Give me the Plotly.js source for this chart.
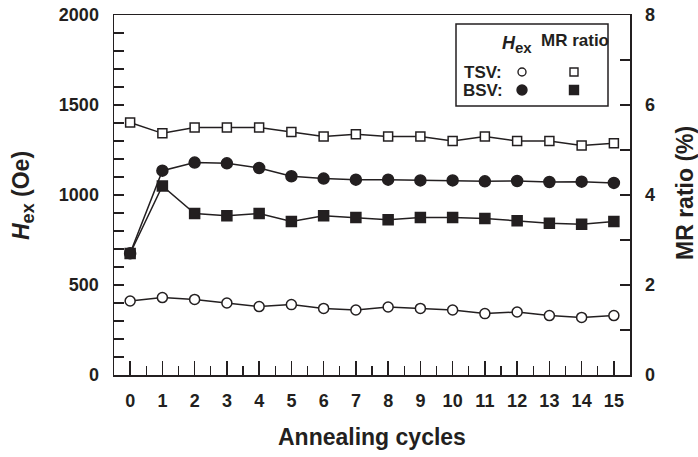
<!DOCTYPE html>
<html>
<head>
<meta charset="utf-8">
<script src="https://cdn.plot.ly/plotly-3.0.1.min.js"></script>
<style>html,body{margin:0;padding:0;background:#fff;}#chart{width:698px;height:457px;}</style>
</head>
<body>
<div id="chart"></div>
<script>
// Data
var cycles = [0,1,2,3,4,5,6,7,8,9,10,11,12,13,14,15];
var cycleLabels = ["0","1","2","3","4","5","6","7","8","9","10","11","12","13","14","15"];
var hexTSV = [411,430,420,400,380,391,370,361,378,370,361,341,350,330,320,330];
var hexBSV = [676,1135,1180,1176,1150,1104,1091,1085,1085,1081,1081,1076,1078,1072,1074,1067];
var mrTSV  = [5.61,5.37,5.50,5.50,5.50,5.40,5.30,5.35,5.30,5.30,5.20,5.30,5.20,5.20,5.10,5.15];
var mrBSV  = [2.70,4.20,3.59,3.54,3.59,3.41,3.54,3.50,3.45,3.50,3.50,3.48,3.43,3.37,3.35,3.41];
var hexTicks = [0,500,1000,1500,2000];
var mrTicks = [0,2,4,6,8];

var ink = '#231f20';
var FONT = 'Liberation Sans, Arial, sans-serif';

function tr(y, yaxis, sym, filled, size) {
  return {
    x: cycles, y: y, yaxis: yaxis, type: 'scatter', mode: 'lines+markers',
    line: {color: ink, width: 1.5},
    marker: {symbol: sym, size: size, color: filled ? ink : '#ffffff',
             line: {color: ink, width: 1.5}},
    showlegend: false, hoverinfo: 'skip'
  };
}

var data = [
  tr(hexBSV, 'y', 'circle', true, 11),
  tr(hexTSV, 'y', 'circle', false, 10),
  tr(mrBSV, 'y2', 'square', true, 10),
  tr(mrTSV, 'y2', 'square', false, 9)
];

// pixel -> paper helpers (plot area: x 114..630, y 15..375)
function px(x){ return (x-114)/516; }
function py(y){ return (375-y)/360; }

var legFont = {family: FONT, size: 17, color: ink};
var titleFont = {family: FONT, size: 23, color: ink};
var annotations = [
  {xref:'paper', yref:'paper', x: px(372), y: py(437), text:'<b>Annealing cycles</b>', showarrow:false,
   font: titleFont, xanchor:'center', yanchor:'middle'},
  {xref:'paper', yref:'paper', x: px(23), y: py(196),
   text:'<b><i>H</i><sub><span style="font-size:18px">ex</span></sub> (Oe)</b>', showarrow:false,
   font: titleFont, textangle:-90, xanchor:'center', yanchor:'middle'},
  {xref:'paper', yref:'paper', x: px(685), y: py(193), text:'<b>MR ratio (%)</b>', showarrow:false,
   font: titleFont, textangle:-90, xanchor:'center', yanchor:'middle'},
  // legend text
  {xref:'paper', yref:'paper', x: px(517), y: py(44),
   text:'<b><i>H</i><sub><span style="font-size:15px">ex</span></sub></b>', showarrow:false,
   font:{family:FONT,size:18,color:ink}, xanchor:'center', yanchor:'middle'},
  {xref:'paper', yref:'paper', x: px(575), y: py(41), text:'<b>MR ratio</b>', showarrow:false,
   font: legFont, xanchor:'center', yanchor:'middle'},
  {xref:'paper', yref:'paper', x: px(483), y: py(72), text:'<b>TSV:</b>', showarrow:false,
   font: legFont, xanchor:'center', yanchor:'middle'},
  {xref:'paper', yref:'paper', x: px(483), y: py(90), text:'<b>BSV:</b>', showarrow:false,
   font: legFont, xanchor:'center', yanchor:'middle'}
];

function mk(type, cx, cy, d, filled) {
  return {type: type, xref:'paper', yref:'paper', xsizemode:'pixel', ysizemode:'pixel',
    xanchor: px(cx), yanchor: py(cy), x0: -d/2, x1: d/2, y0: -d/2, y1: d/2,
    line:{color: ink, width: 1.4}, fillcolor: filled ? ink : '#ffffff', layer:'above'};
}

var shapes = [
  {type:'rect', xref:'paper', yref:'paper', x0: px(456), x1: px(608), y0: py(106), y1: py(24),
   line:{color: ink, width: 1.5}, fillcolor:'#ffffff', layer:'above'},
  mk('circle', 522, 72, 8, false),
  mk('rect', 574, 72, 8, false),
  mk('circle', 522, 90, 10, true),
  mk('rect', 574, 90, 9, true)
];

var tickFont = {family: FONT, size: 18, color: ink, weight: 'bold'};

var layout = {
  width: 698, height: 457,
  margin: {l:114, r:68, t:15, b:82, pad:0},
  paper_bgcolor:'#ffffff', plot_bgcolor:'#ffffff',
  font: {family: FONT, color: ink},
  showlegend: false,
  xaxis: {
    range: [-0.5, 15.5], tickvals: cycles, ticktext: cycleLabels,
    ticks:'inside', ticklen: 14, tickwidth: 1.4, tickcolor: ink,
    minor: {ticks:'inside', ticklen: 9, tickwidth: 1.4, tickcolor: ink, dtick: 0.5, tick0: 0},
    showline: true, linecolor: ink, linewidth: 1.5, mirror: true,
    showgrid: false, zeroline: false,
    tickfont: tickFont,
    ticklabelstandoff: 9
  },
  yaxis: {
    range: [0, 2000], tickvals: hexTicks,
    ticks:'inside', ticklen: 10, tickwidth: 1.4, tickcolor: ink,
    minor: {ticks:'inside', ticklen: 10, tickwidth: 1.4, tickcolor: ink, dtick: 100, tick0: 0},
    showline: true, linecolor: ink, linewidth: 1.5,
    showgrid: false, zeroline: false,
    tickfont: tickFont,
    ticklabelstandoff: 10
  },
  yaxis2: {
    range: [0, 8], tickvals: mrTicks, overlaying: 'y', side: 'right',
    ticks:'inside', ticklen: 10, tickwidth: 1.4, tickcolor: ink,
    minor: {ticks:'inside', ticklen: 10, tickwidth: 1.4, tickcolor: ink, dtick: 1, tick0: 0},
    showline: true, linecolor: ink, linewidth: 1.5,
    showgrid: false, zeroline: false,
    tickfont: tickFont,
    ticklabelstandoff: 10
  },
  annotations: annotations,
  shapes: shapes
};

Plotly.newPlot('chart', data, layout, {displayModeBar:false, staticPlot:true});
</script>
</body>
</html>
